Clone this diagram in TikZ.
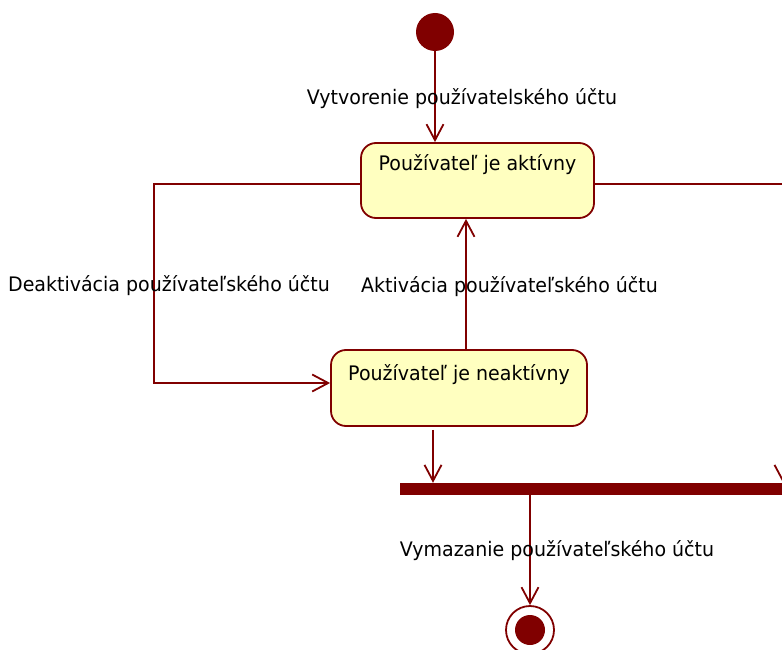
\documentclass[tikz,border=0pt]{standalone}
\usepackage{fontspec}
\setmainfont[FakeStretch=0.95]{DejaVu Sans}
\usetikzlibrary{arrows.meta}
\definecolor{umlred}{HTML}{800000}
\definecolor{umlfill}{HTML}{FFFFC0}
\tikzset{
  every node/.style={font=\fontsize{20}{23}\selectfont},
  conn/.style={draw=umlred, line width=1.8pt},
  arr/.style={conn, -{Straight Barb[length=16pt,width=17pt,line width=1.8pt]}},
  statebox/.style={draw=umlred, fill=umlfill, line width=1.8pt, rounded corners=15pt, rectangle, inner sep=0pt},
  lbl/.style={text=black, inner sep=0pt, anchor=center},
}
\begin{document}
\begin{tikzpicture}[x=1pt,y=-1pt]
\useasboundingbox (0,0) rectangle (782,650);
\clip (0,0) rectangle (782,650);
% initial state
\node[circle, fill=umlred, minimum size=38pt, inner sep=0pt] (init) at (435,32) {};
% states
\node[statebox, minimum width=233pt, minimum height=75pt,
  label={[anchor=north, yshift=-12pt, inner sep=0pt]north:Používateľ je aktívny}] (act) at (477.5,180.5) {};
\node[statebox, minimum width=256pt, minimum height=76pt,
  label={[anchor=north, yshift=-15pt, inner sep=0pt]north:Používateľ je neaktívny}] (inact) at (459,388) {};
% join bar
\node[rectangle, fill=umlred, minimum width=400pt, minimum height=12pt, inner sep=0pt] (bar) at (600,489) {};
% final state
\node[circle, draw=umlred, line width=1.8pt, minimum size=48pt, inner sep=0pt] (final) at (530,630) {};
\node[circle, fill=umlred, minimum size=30pt, inner sep=0pt] (finalin) at (530,630) {};
% helper coordinates
\coordinate (c466) at (466,0);
\coordinate (c433) at (433,0);
\coordinate (c530) at (530,0);
\coordinate (c783) at (783,0);
\coordinate (leftturn) at (154,184);
\coordinate (rightout) at (790,184);
\coordinate (rightin) at (783,430);
% connectors
\draw[arr] (init) -- (init |- act.north);
\draw[arr] ([yshift=-3.5pt]act.west) -- (leftturn) |- ([yshift=5pt]inact.west);
\draw[arr] (inact.north -| c466) -- (act.south -| c466);
\draw[conn] ([yshift=-3.5pt]act.east) -- (rightout);
\draw[arr, shorten <=3pt] (inact.south -| c433) -- (bar.north -| c433);
\draw[arr] (rightin) -- (bar.north -| c783);
\draw[arr] (bar.south -| c530) -- (final.north);
% labels
\node[lbl] (l1) at (462,99) {Vytvorenie používatelského účtu};
\node[lbl] (l2) at (169,286) {Deaktivácia používateľského účtu};
\node[lbl] (l3) at (509.5,287) {Aktivácia používateľského účtu};
\node[lbl] (l4) at (557,551) {Vymazanie používateľského účtu};
\end{tikzpicture}
\end{document}
